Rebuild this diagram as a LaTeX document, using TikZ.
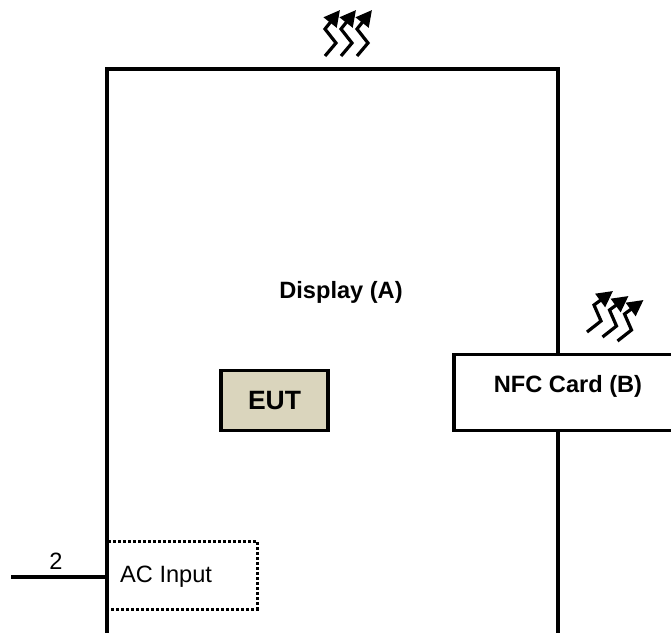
\documentclass[tikz,border=0pt]{standalone}
\usepackage{fontspec}
\setmainfont{Liberation Sans}
\usetikzlibrary{arrows.meta}
\definecolor{eutfill}{HTML}{DAD5BD}
\tikzset{
  heavy/.style={line width=3.4pt,black},
  heat/.style={line width=3.2pt,black,line join=miter,-{Triangle[length=16pt,width=16pt]}},
  lbl/.style={font=\fontsize{23.6}{28}\selectfont,inner sep=0pt,anchor=center},
  blbl/.style={lbl,font=\fontsize{23.6}{28}\selectfont\bfseries},
  box/.style={heavy,draw,inner sep=0pt,outer sep=0pt,minimum width=#1},
}
\begin{document}
\begin{tikzpicture}[x=1pt,y=-1pt]
\useasboundingbox (0,0) rectangle (671,632);
\clip (0,0) rectangle (671,632);
\coordinate (dbl) at (107,634);
\coordinate (dtl) at (107,69);
\coordinate (dtr) at (558,69);
\coordinate (dbr) at (558,634);
\coordinate (w) at (11,577);
\coordinate (wend) at (107,577);
\node[box=107pt,minimum height=60pt,fill=eutfill,font=\fontsize{26.5}{30}\selectfont\bfseries] (eut) at (274.5,400.5) {EUT};
\node[box=225pt,minimum height=76pt,anchor=north west,fill=white] (nfc) at (454,354.3) {};
\draw[heavy] (dbl) -- (dtl) -- (dtr) -- (nfc.north west -| dtr);
\draw[heavy] (nfc.south west -| dbr) -- (dbr);
\node[blbl] (disp) at (341,292) {Display (A)};
\node[blbl] (nfct) at (568,386.5) {NFC Card (B)};
\draw[line width=3pt,dotted,black] (108,541) -- (257,541) -- (257,609) -- (108,609);
\node[lbl,anchor=west] (ac) at (120,577) {AC Input};
\draw[heavy] (w) -- (wend);
\node[lbl] (two) at (56,561) {2};
\foreach \d in {0,16,32}{
  \draw[heat] (325+\d,56) -- (336+\d,43) -- (325+\d,29) -- (340+\d,10);
}
\foreach \dx/\dy in {0/0,15.5/5,30.5/9}{
  \draw[heat] (587+\dx,332+\dy) -- (601+\dx,321+\dy) -- (594+\dx,305+\dy) -- (613+\dx,291+\dy);
}
\end{tikzpicture}
\end{document}
